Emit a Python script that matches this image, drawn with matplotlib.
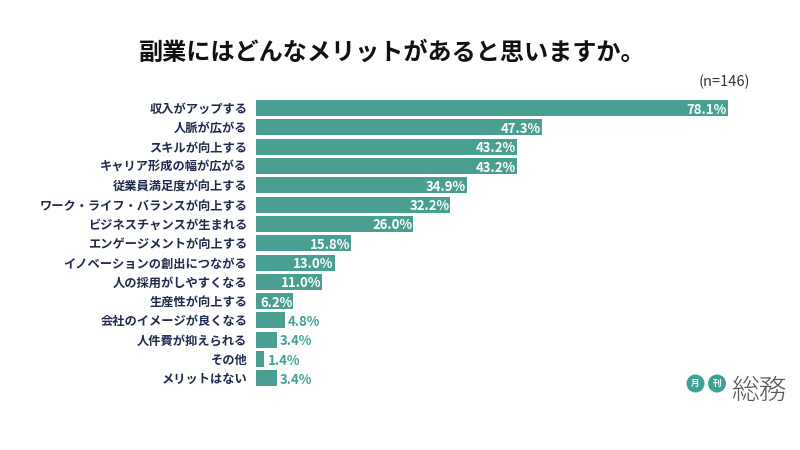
import matplotlib
matplotlib.use("Agg")
import matplotlib.pyplot as plt
from matplotlib.patches import Circle

plt.rcParams["font.family"] = ["Noto Sans CJK JP", "DejaVu Sans"]

# ================================================
# DATA
# ================================================
categories = [
    "収入がアップする", "人脈が広がる", "スキルが向上する", "キャリア形成の幅が広がる",
    "従業員満足度が向上する", "ワーク・ライフ・バランスが向上する", "ビジネスチャンスが生まれる",
    "エンゲージメントが向上する", "イノベーションの創出につながる", "人の採用がしやすくなる",
    "生産性が向上する", "会社のイメージが良くなる", "人件費が抑えられる", "その他", "メリットはない",
]
values = [78.1, 47.3, 43.2, 43.2, 34.9, 32.2, 26.0, 15.8, 13.0, 11.0, 6.2, 4.8, 3.4, 1.4, 3.4]

TEAL = "#4a9f93"
TEAL_TEXT = "#3fa294"
NAVY = "#1f2a4d"
W, H = 800, 450

fig = plt.figure(figsize=(8, 4.5), dpi=100)

# axes starts at bar origin (x=256px), rows run 98.5px to 388px
ax = fig.add_axes([256 / W, 1 - 388 / H, (W - 256) / W, (388 - 98.5) / H])
ax.barh(range(len(values)), values, height=0.83, color=TEAL)
ax.set_xlim(0, (W - 256) / 6.04)
ax.set_ylim(len(values) - 0.5, -0.5)
ax.set_yticks(range(len(values)))
ax.set_yticklabels(categories, fontsize=8.8, fontweight="bold", color=NAVY)
ax.tick_params(axis="y", length=0, pad=6.2)
ax.set_xticks([])
for side in ax.spines.values():
    side.set_visible(False)
ax.patch.set_alpha(0)

for i, v in enumerate(values):
    if v >= 6:
        ax.text(v - 0.15, i, f"{v:.1f}%", ha="right", va="center_baseline",
                color="white", fontsize=9.5, fontweight="bold")
    else:
        ax.text(v + 0.5, i, f"{v:.1f}%", ha="left", va="center_baseline",
                color=TEAL_TEXT, fontsize=9.5, fontweight="bold")

# title and sample size
fig.text(392.5 / W, 1 - 53 / H, "副業にはどんなメリットがあると思いますか。", ha="center", va="center",
         fontsize=17.4, fontweight="bold", color="#111111")
fig.text(750 / W, 1 - 82 / H, "(n=146)", ha="right", va="center", fontsize=10.5, color="#333333")

# logo, drawn in pixel coordinates
logo = fig.add_axes([0, 0, 1, 1])
logo.set_xlim(0, W)
logo.set_ylim(H, 0)
logo.axis("off")
logo.patch.set_alpha(0)
for cx, ch in [(695.5, "月"), (717, "刊")]:
    logo.add_patch(Circle((cx, 383.5), 9, color=TEAL_TEXT, lw=0))
    logo.text(cx, 383.5, ch, ha="center", va="center", color="white", fontsize=6.2, fontweight="bold")
logo.text(758.5, 391, "総務", ha="center", va="center", color="#555555", fontsize=20, fontweight="light")

fig.savefig("out.png", dpi=100)
plt.close(fig)
